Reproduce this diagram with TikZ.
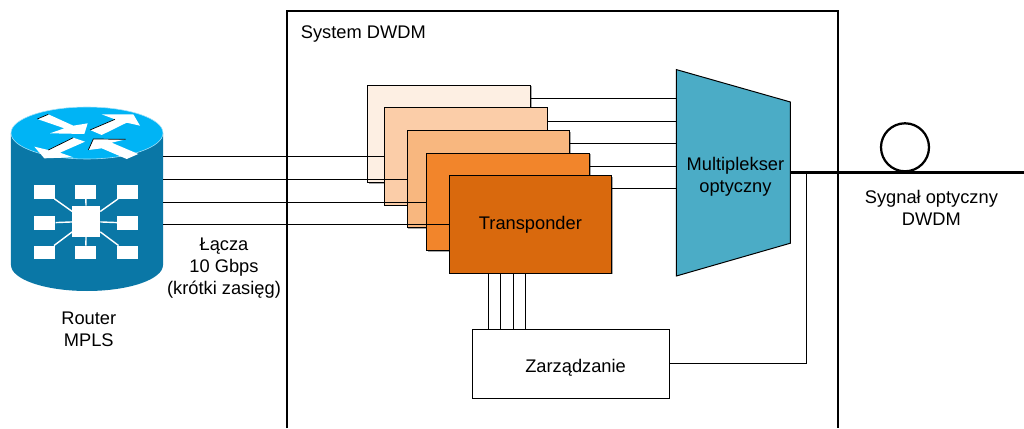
\documentclass[tikz,border=0pt]{standalone}
\usepackage{fontspec}
\setmainfont{Liberation Sans}
\usepackage{color}
\usetikzlibrary{calc,shadows}
\definecolor{tpa}{HTML}{FDEFE3}
\definecolor{tpb}{HTML}{FBCDA8}
\definecolor{tpc}{HTML}{F8B77F}
\definecolor{tpd}{HTML}{F2852B}
\definecolor{tpe}{HTML}{D9690D}
\definecolor{muxblue}{HTML}{4BACC6}
\definecolor{routerside}{HTML}{0A77A6}
\definecolor{routertop}{HTML}{00B4F5}

\begin{document}
\begin{tikzpicture}[every node/.style={font=\fontsize{13}{15.7}\selectfont}]
                      \tikzstyle{transp}=[rectangle,draw=black,line width=0.7pt,minimum width=4.07cm,minimum height=2.43cm,inner sep=0pt,drop shadow={shadow xshift=0.035cm,shadow yshift=-0.035cm,opacity=0.35,fill=black}]
                      \tikzstyle{thin line}=[line width=0.7pt]
                      \tikzstyle{fiber}=[line width=2.2pt]
                      \tikzstyle{port}=[rectangle,fill=white,inner sep=0pt,minimum width=0.53cm,minimum height=0.33cm]
                      \tikzstyle{spoke}=[draw=white,line width=1pt]
                      \tikzstyle{arrowshape}=[fill=white]
                      \tikzstyle{arrowedge}=[draw=black,line width=0.5pt]
                      \useasboundingbox (0,0) rectangle (25.6,10.7);
                      % system frame, open at the bottom
                      \draw[line width=1.1pt] (7.175,0) -- (7.175,10.425) -- (20.95,10.425) -- (20.95,0);
                      \node [anchor=west,inner sep=0pt] (system) at (7.515,9.86) {System DWDM};
                      % router
                      \fill[routerside] (0.275,7.375) -- (0.275,4.075) arc (180:360:1.9 and 0.65) -- (4.075,7.375) -- cycle;
                      \fill[routertop,draw=cyan!35!white,line width=0.4pt] (2.175,7.375) ellipse (1.9 and 0.65);
                      \fill[arrowshape] (0.933,7.725) -- (1.208,7.842) -- (1.833,7.558) -- (2.192,7.617) -- (2.108,7.35) -- (1.25,7.367) -- (1.608,7.492) -- cycle;
                      \fill[arrowshape] (2.25,7.45) -- (2.875,7.717) -- (2.542,7.842) -- (3.333,7.842) -- (3.5,7.558) -- (3.167,7.633) -- (2.542,7.325) -- cycle;
                      \fill[arrowshape] (2.125,7.158) -- (1.833,7.258) -- (1.208,6.95) -- (0.858,7.033) -- (1.108,6.742) -- (1.833,6.767) -- (1.5,6.883) -- cycle;
                      \fill[arrowshape] (2.208,6.95) -- (2.333,7.225) -- (3.142,7.217) -- (2.792,7.133) -- (3.458,6.85) -- (3.167,6.725) -- (2.542,6.992) -- cycle;
                      \draw[arrowedge] (0.933,7.725) -- (1.208,7.842);
                      \draw[arrowedge] (2.25,7.45) -- (2.875,7.717);
                      \draw[arrowedge] (1.833,7.258) -- (1.208,6.95);
                      \draw[arrowedge] (2.208,6.95) -- (2.333,7.225) -- (3.142,7.217);
                      \node [rectangle,fill=white,inner sep=0pt,minimum width=0.69cm,minimum height=0.77cm] (hub) at (2.155,5.165) {};
                      \node [port] (pa) at (1.12,5.9) {};
                      \node [port] (pb) at (2.145,5.9) {};
                      \node [port] (pc) at (3.195,5.9) {};
                      \node [port] (pd) at (1.12,5.125) {};
                      \node [port] (pe) at (3.195,5.125) {};
                      \node [port] (pf) at (1.12,4.39) {};
                      \node [port] (pg) at (2.145,4.39) {};
                      \node [port] (ph) at (3.195,4.39) {};
                      \draw[spoke] (hub) -- (pa);
                      \draw[spoke] (hub) -- (pb);
                      \draw[spoke] (hub) -- (pc);
                      \draw[spoke] (hub) -- (pd);
                      \draw[spoke] (hub) -- (pe);
                      \draw[spoke] (hub) -- (pf);
                      \draw[spoke] (hub) -- (pg);
                      \draw[spoke] (hub) -- (ph);
                      \node [align=center,inner sep=0pt] (routerlabel) at (2.22,2.46) {Router\\MPLS};
                      \coordinate (ra) at (4.075,6.79);
                      \coordinate (rb) at (4.075,6.225);
                      \coordinate (rc) at (4.075,5.65);
                      \coordinate (rd) at (4.075,5.09);
                      % multiplexer
                      \coordinate (ma) at (16.91,8.25);
                      \coordinate (mb) at (16.91,7.675);
                      \coordinate (mc) at (16.91,7.12);
                      \coordinate (md) at (16.91,6.55);
                      \coordinate (me) at (16.91,6.0);
                      \coordinate (mo) at (19.76,6.3825);
                      \draw[thin line,fill=muxblue,draw=black] (16.91,8.96) -- (19.76,8.15) -- (19.76,4.62) -- (16.91,3.8) -- cycle;
                      \node [align=center,inner sep=0pt] (mux) at (18.385,6.275) {Multiplekser\\optyczny};
                      % transponders, each one hides the lines of the one before
                      \node [transp,fill=tpa] (ta) at (11.23,7.36) {};
                      \draw[thin line] (ra) -- (ra -| ta.east);
                      \node [transp,fill=tpb] (tb) at (11.64,6.79) {};
                      \draw[thin line] (rb) -- (rb -| tb.east);
                      \node [transp,fill=tpc] (tc) at (12.21,6.23) {};
                      \draw[thin line] (rc) -- (rc -| tc.east);
                      \node [transp,fill=tpd] (td) at (12.70,5.66) {};
                      \draw[thin line] (rd) -- (rd -| td.east);
                      \node [transp,fill=tpe] (te) at (13.26,5.09) {\raisebox{-1.2pt}{Transponder}};
                      \draw[thin line] (ma -| ta.east) -- (ma);
                      \draw[thin line] (mb -| tb.east) -- (mb);
                      \draw[thin line] (mc -| tc.east) -- (mc);
                      \draw[thin line] (md -| td.east) -- (md);
                      \draw[thin line] (me -| te.east) -- (me);
                      \node [align=center,inner sep=0pt] (links) at (5.6,4.0) {Łącza\\10 Gbps\\(krótki zasięg)};
                      % management
                      \node [rectangle,draw=black,line width=0.7pt,minimum width=4.925cm,minimum height=1.71cm,inner sep=0pt] (mgmt) at (14.27,1.605) {};
                      \node [inner sep=0pt] (mgmtlabel) at (14.39,1.5) {Zarządzanie};
                      \coordinate (ca) at (12.22,2);
                      \coordinate (cb) at (12.52,2);
                      \coordinate (cc) at (12.83,2);
                      \coordinate (cd) at (13.125,2);
                      \draw[thin line] (ca |- te.south) -- (ca |- mgmt.north);
                      \draw[thin line] (cb |- te.south) -- (cb |- mgmt.north);
                      \draw[thin line] (cc |- te.south) -- (cc |- mgmt.north);
                      \draw[thin line] (cd |- te.south) -- (cd |- mgmt.north);
                      \coordinate (tap) at (20.17,6.3825);
                      \draw[thin line] (mgmt.east) -| (tap);
                      % output fibre
                      \coordinate (out) at (25.6,6.3825);
                      \draw[fiber] (mo) -- (out);
                      \node [circle,draw=black,line width=1.6pt,inner sep=0pt,minimum size=1.2cm] (coil) at (22.625,7.0175) {};
                      \node [align=center,inner sep=0pt] (signal) at (23.285,5.495) {Sygnał optyczny\\DWDM};
                  \end{tikzpicture}
\end{document}
